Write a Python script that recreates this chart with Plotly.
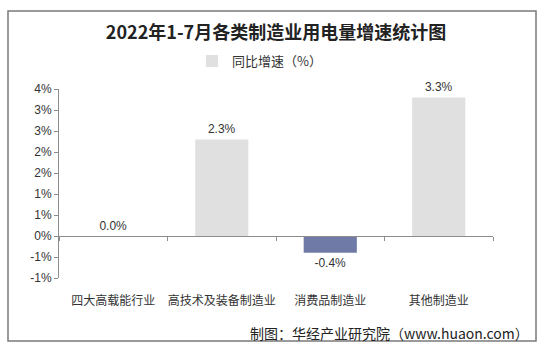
import plotly.graph_objects as go

categories = ["四大高载能行业", "高技术及装备制造业", "消费品制造业", "其他制造业"]
values = [0.0, 2.3, -0.4, 3.3]
labels = ["0.0%", "2.3%", "-0.4%", "3.3%"]
tick_vals = [-1.0, -0.5, 0.0, 0.5, 1.0, 1.5, 2.0, 2.5, 3.0, 3.5]
tick_text = ["-1%", "-1%", "0%", "1%", "1%", "2%", "2%", "3%", "3%", "4%"]

POS = "#e0e0e0"
NEG = "#6f7ba6"
colors = [NEG if v < 0 else POS for v in values]
FONT = "Noto Sans CJK SC"

fig = go.Figure()
fig.add_trace(go.Bar(
    x=categories, y=values, name="同比增速（%）",
    marker=dict(color=colors, line=dict(width=0)),
    text=labels, textposition="outside", cliponaxis=False,
    textfont=dict(size=12, color="#333333", family="Arial"),
    hoverinfo="skip",
))
# invisible helper on the zero-line axis
fig.add_trace(go.Scatter(
    x=categories, y=values, xaxis="x2", mode="markers",
    marker=dict(opacity=0), showlegend=False, hoverinfo="skip",
))

fig.update_layout(
    width=545, height=351,
    margin=dict(l=59, r=52, t=89, b=73),
    paper_bgcolor="white", plot_bgcolor="white",
    bargap=0.51,
    title=dict(text="<b>2022年1-7月各类制造业用电量增速统计图</b>",
               x=0.5, xref="paper", xanchor="center", y=1 - 33 / 351, yanchor="middle",
               font=dict(size=18, color="#222222", family=FONT)),
    legend=dict(orientation="h", x=0.462, xanchor="center", y=1 + 28 / 189, yanchor="middle",
                font=dict(size=13, color="#333333", family=FONT),
                itemwidth=30, bgcolor="rgba(0,0,0,0)"),
    xaxis=dict(type="category", categoryorder="array", categoryarray=categories,
               range=[-0.5, 3.5], showline=False, ticks="", showgrid=False, zeroline=False,
               tickfont=dict(size=12, color="#333333", family=FONT), ticklabelstandoff=14),
    xaxis2=dict(type="category", categoryorder="array", categoryarray=categories,
                range=[-0.5, 3.5], overlaying="x", anchor="free", position=1 / 4.5,
                showline=True, linecolor="#8c8c8c", linewidth=1,
                ticks="outside", tickson="boundaries", ticklen=4, tickcolor="#8c8c8c",
                showticklabels=False, showgrid=False, zeroline=False),
    yaxis=dict(range=[-1.0, 3.5], tickvals=tick_vals, ticktext=tick_text,
               showline=True, linecolor="#8c8c8c", linewidth=1,
               ticks="outside", ticklen=4, tickcolor="#8c8c8c",
               showgrid=False, zeroline=False,
               tickfont=dict(size=12, color="#333333", family="Arial")),
    shapes=[dict(type="rect", xref="paper", yref="paper",
                 x0=-51 / 434, x1=477 / 434, y0=-63 / 189, y1=1 + 78 / 189,
                 line=dict(color="#7a7a7a", width=1.5), fillcolor="rgba(0,0,0,0)", layer="below")],
    annotations=[dict(text="制图：华经产业研究院（www.huaon.com）", xref="paper", yref="paper",
                      x=472 / 434, xanchor="right", y=-55 / 189, yanchor="middle", showarrow=False,
                      font=dict(size=14, color="#222222", family=FONT))],
)

fig.write_html("out.html")
